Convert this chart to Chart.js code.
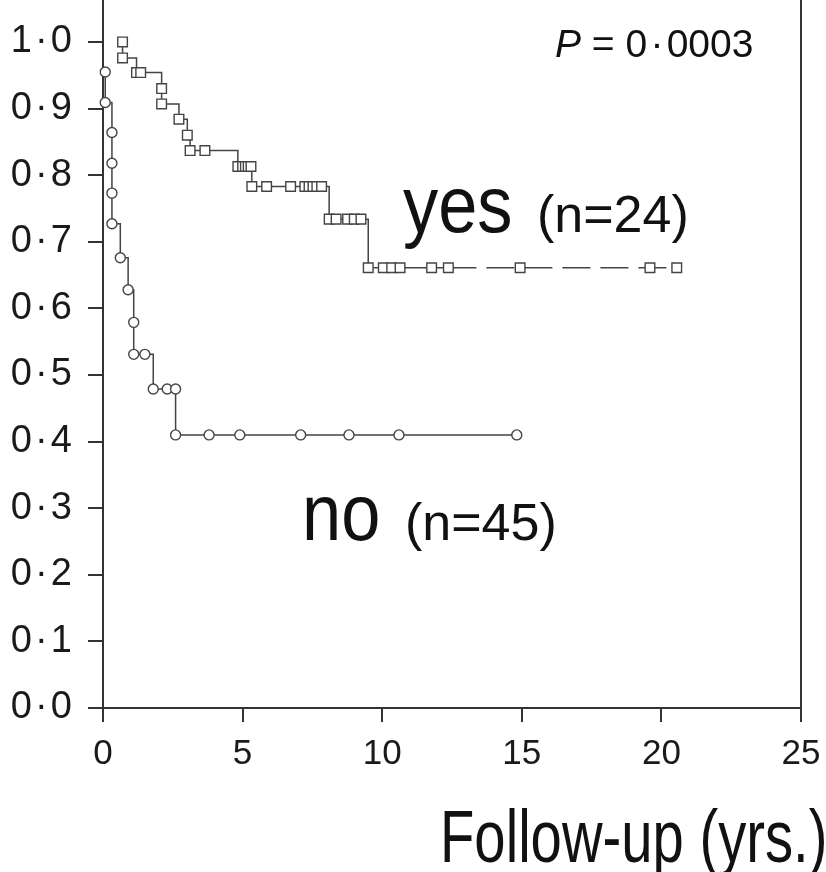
<!doctype html>
<html lang="en">
<head>
<meta charset="utf-8">
<title>Survival by group</title>
<script src="https://cdn.jsdelivr.net/npm/chart.js"></script>
<style>
  body{margin:0;background:#fff}
  canvas{display:block}
</style>
</head>
<body>
<canvas id="km" width="826" height="872"></canvas>

<script>
/* ---------- data ------------------------------------------------------ */
// group "no" (circles)
const noTimes = [0.08,0.08,0.32,0.32,0.32,0.32,0.62,0.9,1.1,1.1,1.5,1.8,2.3,2.6,2.6,3.8,4.9,7.08,8.81,10.6,14.82];
const noSurv  = [0.955,0.909,0.864,0.818,0.773,0.727,0.676,0.628,0.579,0.531,0.531,0.479,0.479,0.479,0.41,0.41,0.41,0.41,0.41,0.41,0.41];

// group "yes" (squares)
const yesTimes = [0.7,0.7,1.2,1.35,2.1,2.1,2.72,3.02,3.12,3.65,
                  4.83,5.0,5.1,5.2,5.3,5.33,5.86,6.72,7.23,7.38,7.52,7.66,7.83,
                  8.1,8.35,8.76,9.0,9.24,9.5,10.04,10.34,10.64,11.77,12.37,14.94,19.59,20.55];
const yesSurv  = [1.0,0.976,0.954,0.954,0.93,0.907,0.884,0.86,0.837,0.837,
                  0.813,0.813,0.813,0.813,0.813,0.783,0.783,0.783,0.783,0.783,0.783,0.783,0.783,
                  0.734,0.734,0.734,0.734,0.734,0.661,0.661,0.661,0.661,0.661,0.661,0.661,0.661,0.661];
const yesDashFrom = 12.37;   // long-term tail is drawn dashed

const xTicks = [0,5,10,15,20,25];
const yTicks = [0,0.1,0.2,0.3,0.4,0.5,0.6,0.7,0.8,0.9,1.0];

const DOT = '\u200A·\u200A';   // journal-style decimal point
const pValue = '0' + DOT + '0003';
const groupLabels = [
  {word:'yes', n:'(n=24)', x:403, nx:537, y:232},
  {word:'no',  n:'(n=45)', x:302, nx:405, y:540}
];
const xTitle = 'Follow-up (yrs.)';

/* ---------- helpers --------------------------------------------------- */
const pts = (xs,ys) => xs.map((x,i)=>({x, y:ys[i]}));
const dot = v => v.toFixed(1).replace('.', DOT);
const FONT = '"Liberation Sans", Arial, Helvetica, sans-serif';
const AX = '#333';

// text with an optional horizontal squeeze
function label(ctx, txt, x, y, size, sx, style){
  ctx.save();
  ctx.translate(x, y);
  ctx.scale(sx, 1);
  ctx.font = (style||'') + ' ' + size + 'px ' + FONT;
  ctx.fillText(txt, 0, 0);
  const w = ctx.measureText(txt).width * sx;
  ctx.restore();
  return w;
}

/* ---------- annotations + right frame line ---------------------------- */
const extras = {
  id:'extras',
  afterDraw(chart){
    const {ctx, chartArea:a} = chart;
    ctx.save();
    ctx.strokeStyle = AX; ctx.lineWidth = 2;
    ctx.beginPath(); ctx.moveTo(a.right, a.top); ctx.lineTo(a.right, a.bottom); ctx.stroke();

    ctx.fillStyle = '#111';
    ctx.textBaseline = 'alphabetic';
    // P value, italic P
    let px = 555;
    px += label(ctx, 'P', px, 57, 39, 1, 'italic');
    label(ctx, ' = ' + pValue, px, 57, 39, 1);

    groupLabels.forEach(g=>{
      label(ctx, g.word, g.x, g.y, 80, 0.88);
      label(ctx, g.n, g.nx, g.y, 52, 1);
    });

    label(ctx, xTitle, 440, 862, 74, 0.76);
    ctx.restore();
  }
};

/* ---------- chart ----------------------------------------------------- */
new Chart(document.getElementById('km'), {
  type:'line',
  data:{datasets:[
    {label:'no', data:pts(noTimes,noSurv), stepped:true,
     borderColor:'#444', borderWidth:1.5,
     pointStyle:'circle', pointRadius:5, pointBorderWidth:1.4,
     pointBackgroundColor:'#fff', pointBorderColor:'#444'},
    {label:'yes', data:pts(yesTimes,yesSurv), stepped:true,
     borderColor:'#444', borderWidth:1.5,
     pointStyle:'rect', pointRadius:6.8, pointBorderWidth:1.4,
     pointBackgroundColor:'#fff', pointBorderColor:'#444',
     segment:{borderDash: c => c.p0.parsed.x >= yesDashFrom ? [28,10] : undefined}}
  ]},
  options:{
    responsive:false, animation:false, clip:false,
    layout:{autoPadding:false, padding:{left:0,right:25,top:0,bottom:0}},
    plugins:{legend:{display:false}, tooltip:{enabled:false}},
    scales:{
      x:{type:'linear', min:0, max:25,
         afterBuildTicks: s => { s.ticks = xTicks.map(v=>({value:v})); },
         afterFit: s => { s.height = 164; s.paddingLeft = 0; s.paddingRight = 0; },
         ticks:{color:'#1a1a1a', padding:11, font:{family:FONT, size:35}},
         grid:{drawOnChartArea:false, tickLength:14, color:AX, lineWidth:2},
         border:{color:AX, width:2}},
      y:{type:'linear', min:0, max:1.063,
         afterBuildTicks: s => { s.ticks = yTicks.map(v=>({value:v})); },
         afterFit: s => { s.width = 103; s.paddingTop = 0; s.paddingBottom = 0; },
         ticks:{color:'#1a1a1a', padding:16, font:{family:FONT, size:38}, callback: v => dot(v)},
         grid:{drawOnChartArea:false, tickLength:15, color:AX, lineWidth:2},
         border:{color:AX, width:2}}
    }
  },
  plugins:[extras]
});
</script>
</body>
</html>
